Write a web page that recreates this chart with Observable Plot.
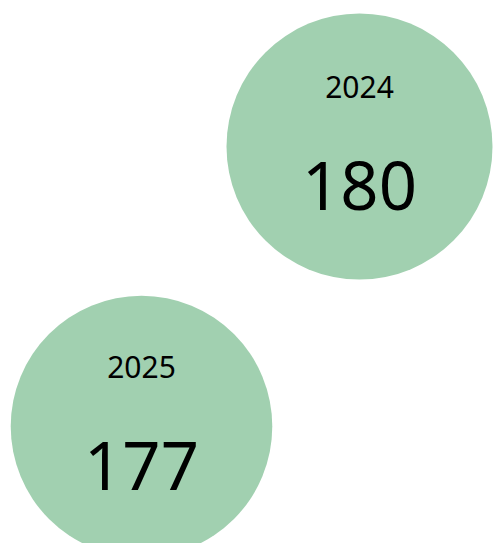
<!DOCTYPE html>
<html>
<head>
<meta charset="utf-8">
<script src="https://cdn.jsdelivr.net/npm/d3@7"></script>
<script src="https://cdn.jsdelivr.net/npm/@observablehq/plot@0.6"></script>
<style>
  html, body { margin: 0; padding: 0; background: #ffffff; overflow: hidden; }
</style>
</head>
<body>
<div id="chart"></div>
<script>
const years = ["2024", "2025"];
const values = [180, 177];

const data = years.map((year, i) => ({ year, value: values[i] }));

const fill = "#a1d0b0";
const font = "'Noto Sans', sans-serif";

const chart = Plot.plot({
  width: 493,
  height: 543,
  margin: 0,
  style: { fontFamily: font, background: "#ffffff" },
  x: { type: "point", domain: ["2025", "2024"], range: [140.5, 359], padding: 0, axis: null },
  y: { type: "point", domain: ["2024", "2025"], range: [146, 426], padding: 0, axis: null },
  r: { type: "linear", domain: [0, 180], range: [0, 133] },
  marks: [
    Plot.dot(data, { x: "year", y: "year", r: "value", fill: fill, stroke: null }),
    Plot.text(data, { x: "year", y: "year", text: "year", dy: -58, fontSize: 30, fill: "#000", fontFamily: font }),
    Plot.text(data, { x: "year", y: "year", text: d => String(d.value), dy: 42, fontSize: 67, fill: "#000", fontFamily: font })
  ]
});

document.getElementById("chart").appendChild(chart);
</script>
</body>
</html>
